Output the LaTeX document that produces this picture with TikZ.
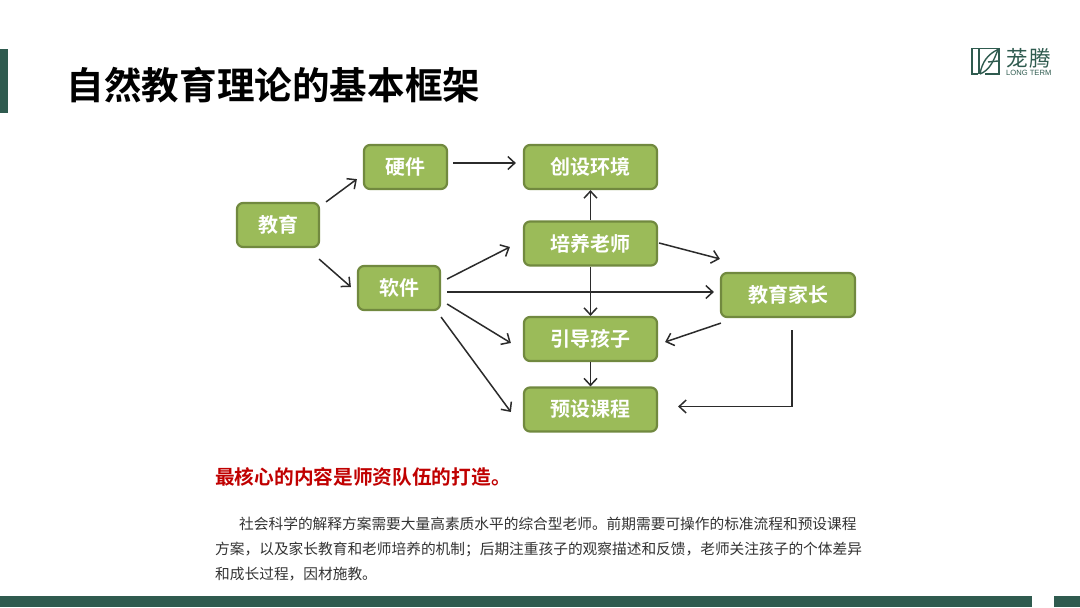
\documentclass[tikz,border=0pt]{standalone}
\usepackage{fontspec}
\setmainfont{Liberation Sans}
\newfontfamily\cjk{Noto Sans CJK SC}
\newfontfamily\cjkb{Noto Sans CJK SC Bold}
\usetikzlibrary{arrows.meta}
\definecolor{deepgreen}{HTML}{2F5B4F}
\definecolor{boxfill}{HTML}{9BBB59}
\definecolor{boxedge}{HTML}{71893F}
\definecolor{linkc}{HTML}{2B2B2B}
\definecolor{redhead}{HTML}{C00000}
\definecolor{bodytxt}{HTML}{333333}
\tikzset{
  box/.style={draw=boxedge,fill=boxfill,line width=2.2pt,rounded corners=6pt,minimum height=44pt,
    inner sep=0pt,text=white,font=\cjkb\fontsize{20}{24}\selectfont,anchor=center},
  link/.style={draw=linkc,line width=1.5pt,-{Straight Barb[length=7pt,width=13pt,line width=1.5pt]}},
  bodyline/.style={anchor=west,inner sep=0pt,text=bodytxt,font=\cjk\fontsize{14.7}{18}\selectfont},
  bar/.style={fill=deepgreen,draw=none},
  logoline/.style={draw=deepgreen,line width=1.4pt}
}
\begin{document}
\begin{tikzpicture}[x=1pt,y=-1pt]
\useasboundingbox (0,0) rectangle (1080,608);
\fill[white] (0,0) rectangle (1080,608);
% page furniture
\fill[bar] (0,49) rectangle (8,113);
\fill[bar] (0,596) rectangle (1032,607);
\fill[bar] (1054,596) rectangle (1080,607);
\node[anchor=west,inner sep=0pt,font=\cjkb\fontsize{37.6}{44}\selectfont] (title) at (66.5,85) {自然教育理论的基本框架};
% logo
\draw[logoline] (978,74) -- (972,74) -- (972,48.5) -- (999,48.5) -- (999,74) -- (985,74);
\draw[logoline] (979,48.5) -- (979,74);
\draw[logoline] (980,74) .. controls (982,62) and (988,54) .. (998,49.5);
\draw[logoline] (980,74) .. controls (990,70) and (994,60) .. (998,49.5);
\draw[logoline] (988,62) -- (998,61);
\node[anchor=west,inner sep=0pt,text=deepgreen,font=\cjk\fontsize{21.5}{24}\selectfont] (logocn) at (1006,58) {茏\hspace{2pt}腾};
\node[anchor=west,inner sep=0pt,text=deepgreen,font=\fontsize{7.6}{8}\selectfont] (logoen) at (1006,73) {LONG TERM};
% nodes
\node[box,minimum width=82pt] (jy) at (278,225) {教育};
\node[box,minimum width=83pt] (yj) at (405.5,167) {硬件};
\node[box,minimum width=82pt] (rj) at (399,288) {软件};
\node[box,minimum width=133pt] (cs) at (590.5,167) {创设环境};
\node[box,minimum width=133pt] (py) at (590.5,243.5) {培养老师};
\node[box,minimum width=133pt] (yd) at (590.5,339) {引导孩子};
\node[box,minimum width=133pt] (ys) at (590.5,409.5) {预设课程};
\node[box,minimum width=134pt] (jz) at (788,295) {教育家长};
% connectors
\draw[link] ([shift={(6,0)}]jy.north east) -- ([shift={(-6,-11)}]yj.south west);
\draw[link] ([shift={(-1,11)}]jy.south east) -- ([shift={(-6,-1)}]rj.west);
\draw[link] ([shift={(5,-4)}]yj.east) -- ([shift={(-7,-4)}]cs.west);
\draw[link] ([shift={(6,-9)}]rj.east) -- ([shift={(-13,3.5)}]py.west);
\draw[link] ([shift={(6,4)}]rj.east) -- ([shift={(-6,-3)}]jz.west);
\draw[link] ([shift={(6,16)}]rj.east) -- ([shift={(-12,4)}]yd.west);
\draw[link] (rj.south east) ++(0,6) -- ([shift={(-12,2.5)}]ys.west);
\draw[link] ([shift={(1,-0.5)}]py.east) -- ([shift={(0,-13)}]jz.north west);
\draw[link] (py.north) -- (cs.south);
\draw[link] (py.south) -- (yd.north);
\draw[link] (yd.south) -- (ys.north);
\draw[link] ([shift={(1,5)}]jz.south west) -- ([shift={(7,3)}]yd.east);
\draw[link] ([shift={(4,12)}]jz.south) |- ([shift={(20,-3)}]ys.east);
% text
\node[anchor=west,inner sep=0pt,text=redhead,font=\cjkb\fontsize{19.7}{24}\selectfont] (head) at (215,477) {最核心的内容是师资队伍的打造。};
\node[bodyline] (l1) at (239,524) {社会科学的解释方案需要大量高素质水平的综合型老师。前期需要可操作的标准流程和预设课程};
\node[bodyline] (l2) at (215,549) {方案，以及家长教育和老师培养的机制；后期注重孩子的观察描述和反馈，老师关注孩子的个体差异};
\node[bodyline] (l3) at (215,574) {和成长过程，因材施教。};
\end{tikzpicture}
\end{document}
